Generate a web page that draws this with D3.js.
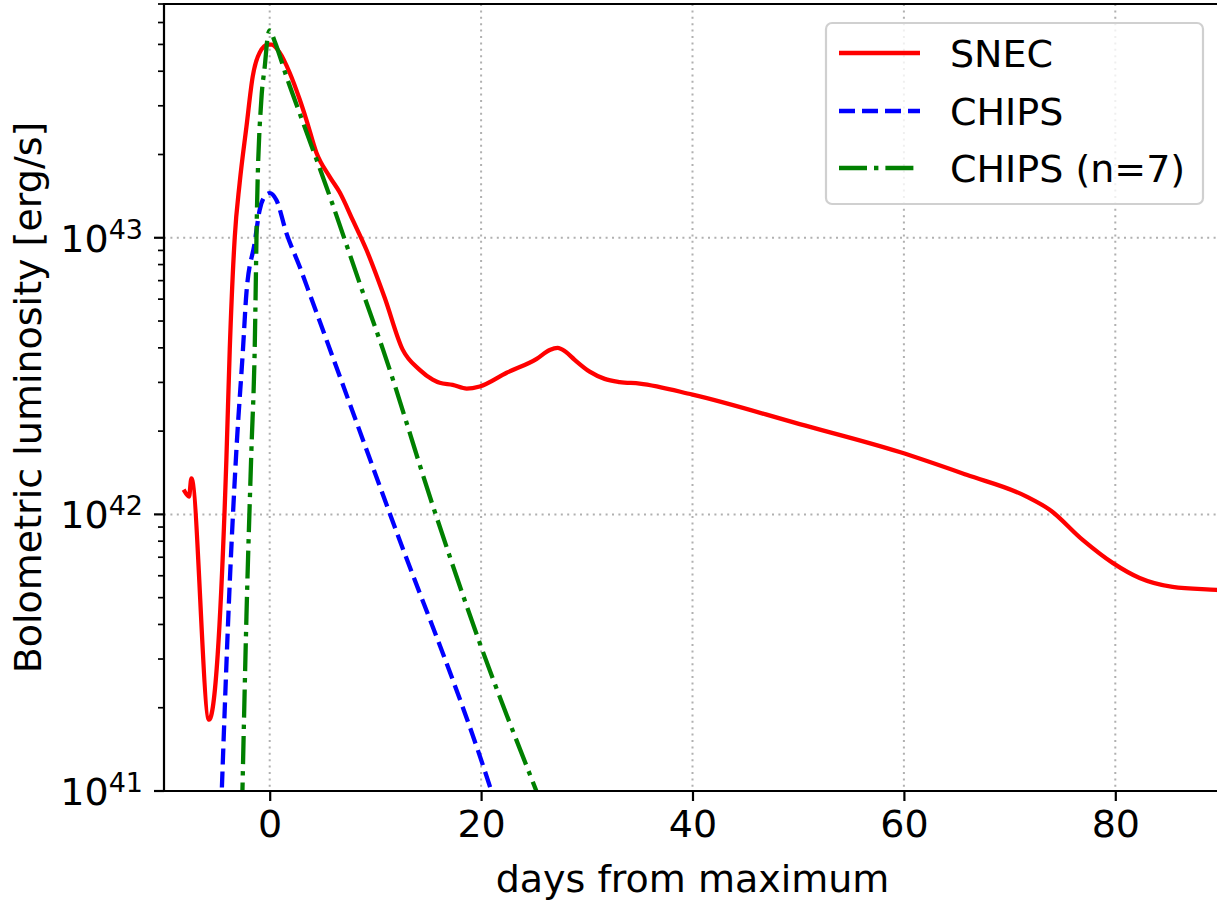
<!DOCTYPE html>
<html>
<head>
<meta charset="utf-8">
<script src="https://cdn.jsdelivr.net/npm/d3@7"></script>
<style>
  html, body { margin: 0; padding: 0; background: #ffffff; }
  svg { display: block; }
  text { font-family: "DejaVu Sans", sans-serif; fill: #000; }
</style>
</head>
<body>
<svg id="chart" width="1217" height="901"></svg>
<script>
// ---- data ----
const snecDays = [-8.04, -7.63, -7.41, -5.74, -4.10, -3.78, -3.31, -2.84, -2.20, -1.61, -0.95, -0.16, 0.19, 0.95, 1.89, 2.84, 3.47, 4.42, 5.68, 6.62, 7.85, 9.15, 10.88, 12.58, 14.19, 15.42, 16.08, 17.31, 18.64, 19.87, 22.42, 25.26, 26.49, 27.24, 28.0, 28.85, 30.27, 31.69, 33.11, 35.0, 40.0, 50.14, 59.6, 65.93, 71.61, 73.79, 76.91, 79.75, 82.3, 85.42, 89.58, 90.5];
const snecLum  = [1.21e42, 1.16e42, 1.35e42, 1.81e41, 1.57e42, 3.94e42, 1.0e43, 1.58e43, 2.52e43, 3.82e43, 4.67e43, 4.99e43, 4.99e43, 4.67e43, 3.95e43, 3.16e43, 2.67e43, 2.03e43, 1.66e43, 1.46e43, 1.16e43, 9.05e42, 6.07e42, 3.94e42, 3.33e42, 3.07e42, 2.99e42, 2.94e42, 2.85e42, 2.90e42, 3.25e42, 3.65e42, 3.93e42, 4.0e42, 3.87e42, 3.62e42, 3.28e42, 3.09e42, 3.01e42, 2.97e42, 2.71e42, 2.12e42, 1.68e42, 1.39e42, 1.16e42, 1.04e42, 8.09e41, 6.68e41, 5.89e41, 5.47e41, 5.33e41, 5.3e41];

const chipsDays = [-4.6, -3.78, -3.15, -2.53, -2.20, -1.42, -0.95, -0.47, 0.0, 0.63, 1.58, 2.84, 3.94, 11.35, 20.97, 21.6];
const chipsLum  = [8.5e40, 5.65e41, 1.71e42, 3.94e42, 6.33e42, 9.6e42, 1.26e43, 1.41e43, 1.45e43, 1.37e43, 1.04e43, 7.85e42, 6.03e42, 1.01e42, 1.0e41, 8.4e40];

const chips7Days = [-2.62, -2.20, -1.73, -1.42, -1.20, -0.79, -0.47, -0.16, 0.0, 0.47, 1.58, 3.15, 5.36, 8.83, 10.72, 15.45, 19.87, 25.23, 25.8];
const chips7Lum  = [8.5e40, 4.27e41, 1.71e42, 3.94e42, 1.29e43, 3.16e43, 4.15e43, 5.42e43, 5.62e43, 5.13e43, 3.83e43, 2.61e43, 1.53e43, 6.32e42, 3.94e42, 1.07e42, 3.43e41, 1.0e41, 8.8e40];

const xTicks = [0, 20, 40, 60, 80];
const yMajorExps = [41, 42, 43];
const legendLabels = ["SNEC", "CHIPS", "CHIPS (n=7)"];
const seriesColors = ["#ff0000", "#0000ff", "#008000"];
const xLabel = "days from maximum";
const yLabel = "Bolometric luminosity [erg/s]";

// ---- layout ----
const svg = d3.select("#chart");
const L = 164, R = 1221, T = 4, B = 791;
const fs = 38;

svg.append("rect").attr("width", 1217).attr("height", 901).attr("fill", "#fff");

const x = d3.scaleLinear().domain([-10, 90]).range([L, R]);
const y = d3.scaleLog().domain([1e41, 7e43]).range([B, T]);

svg.append("defs").append("clipPath").attr("id", "plotclip")
  .append("rect").attr("x", L).attr("y", T).attr("width", R - L).attr("height", B - T);

// grid
const grid = svg.append("g");
xTicks.forEach(t => {
  grid.append("line").attr("x1", x(t)).attr("x2", x(t)).attr("y1", T).attr("y2", B)
    .attr("stroke", "#b0b0b0").attr("stroke-width", 2).attr("stroke-dasharray", "2,4.4");
});
yMajorExps.forEach(e => {
  grid.append("line").attr("x1", L).attr("x2", R).attr("y1", y(Math.pow(10, e))).attr("y2", y(Math.pow(10, e)))
    .attr("stroke", "#b0b0b0").attr("stroke-width", 2).attr("stroke-dasharray", "2,4.4");
});

// lines
const lineGen = d3.line().x(d => x(d[0])).y(d => y(d[1])).curve(d3.curveMonotoneX);
const plots = svg.append("g").attr("clip-path", "url(#plotclip)");
const series = [
  { days: snecDays, lum: snecLum, dash: null },
  { days: chipsDays, lum: chipsLum, dash: "16,7" },
  { days: chips7Days, lum: chips7Lum, dash: "28,7,4.4,7" }
];
series.forEach((s, i) => {
  const pts = s.days.map((d, j) => [d, s.lum[j]]);
  const p = plots.append("path").attr("d", lineGen(pts)).attr("fill", "none")
    .attr("stroke", seriesColors[i]).attr("stroke-width", 4.3)
    .attr("stroke-linejoin", "round");
  if (s.dash) p.attr("stroke-dasharray", s.dash).attr("stroke-linecap", "butt");
  else p.attr("stroke-linecap", "square");
});

// axes
const xAxis = d3.axisBottom(x).tickValues(xTicks).tickSize(10).tickPadding(9).tickFormat(d3.format("d"));
const gx = svg.append("g").attr("transform", `translate(0,${B})`).call(xAxis);
gx.select(".domain").remove();
gx.selectAll(".tick line").attr("stroke", "#000").attr("stroke-width", 2.2);
gx.selectAll(".tick text").attr("font-size", fs).attr("font-family", "DejaVu Sans").attr("fill", "#000");

// y ticks (major + minor)
const gy = svg.append("g");
const minor = [];
for (let e = 41; e <= 43; e++) {
  for (let m = 2; m <= 9; m++) {
    const v = m * Math.pow(10, e);
    if (v <= 7e43) minor.push(v);
  }
}
minor.forEach(v => {
  gy.append("line").attr("x1", L - 6).attr("x2", L).attr("y1", y(v)).attr("y2", y(v))
    .attr("stroke", "#000").attr("stroke-width", 1.7);
});
yMajorExps.forEach(e => {
  const yy = y(Math.pow(10, e));
  gy.append("line").attr("x1", L - 10).attr("x2", L).attr("y1", yy).attr("y2", yy)
    .attr("stroke", "#000").attr("stroke-width", 2.2);
  const t = gy.append("text").attr("x", 143).attr("y", yy + 14).attr("text-anchor", "end")
    .attr("font-size", fs);
  t.append("tspan").text("10");
  t.append("tspan").attr("font-size", 27).attr("dy", -13).text(String(e));
});

// spines
const sp = svg.append("g").attr("stroke", "#000").attr("stroke-width", 2.2).attr("fill", "none");
sp.append("line").attr("x1", L).attr("x2", L).attr("y1", T - 1.1).attr("y2", B + 1.1);
sp.append("line").attr("x1", L - 1.1).attr("x2", R).attr("y1", B).attr("y2", B);
sp.append("line").attr("x1", L - 1.1).attr("x2", R).attr("y1", T).attr("y2", T);
sp.append("line").attr("x1", R).attr("x2", R).attr("y1", T).attr("y2", B);

// axis labels
svg.append("text").attr("x", (L + R) / 2).attr("y", 892).attr("text-anchor", "middle")
  .attr("font-size", fs).text(xLabel);
svg.append("text").attr("transform", `translate(41,${(T + B) / 2}) rotate(-90)`)
  .attr("text-anchor", "middle").attr("font-size", fs).text(yLabel);

// legend
const lg = svg.append("g");
lg.append("rect").attr("x", 826).attr("y", 23).attr("width", 377).attr("height", 181)
  .attr("rx", 6).attr("ry", 6).attr("fill", "#fff").attr("fill-opacity", 0.8)
  .attr("stroke", "#d0d0d0").attr("stroke-width", 2.2);
const legY = [53, 111, 168];
legendLabels.forEach((lab, i) => {
  const ln = lg.append("line").attr("x1", 839).attr("x2", 920).attr("y1", legY[i]).attr("y2", legY[i])
    .attr("stroke", seriesColors[i]).attr("stroke-width", 4.3);
  if (series[i].dash) ln.attr("stroke-dasharray", series[i].dash);
  lg.append("text").attr("x", 950).attr("y", legY[i] + 14).attr("font-size", fs).text(lab);
});
</script>
</body>
</html>
